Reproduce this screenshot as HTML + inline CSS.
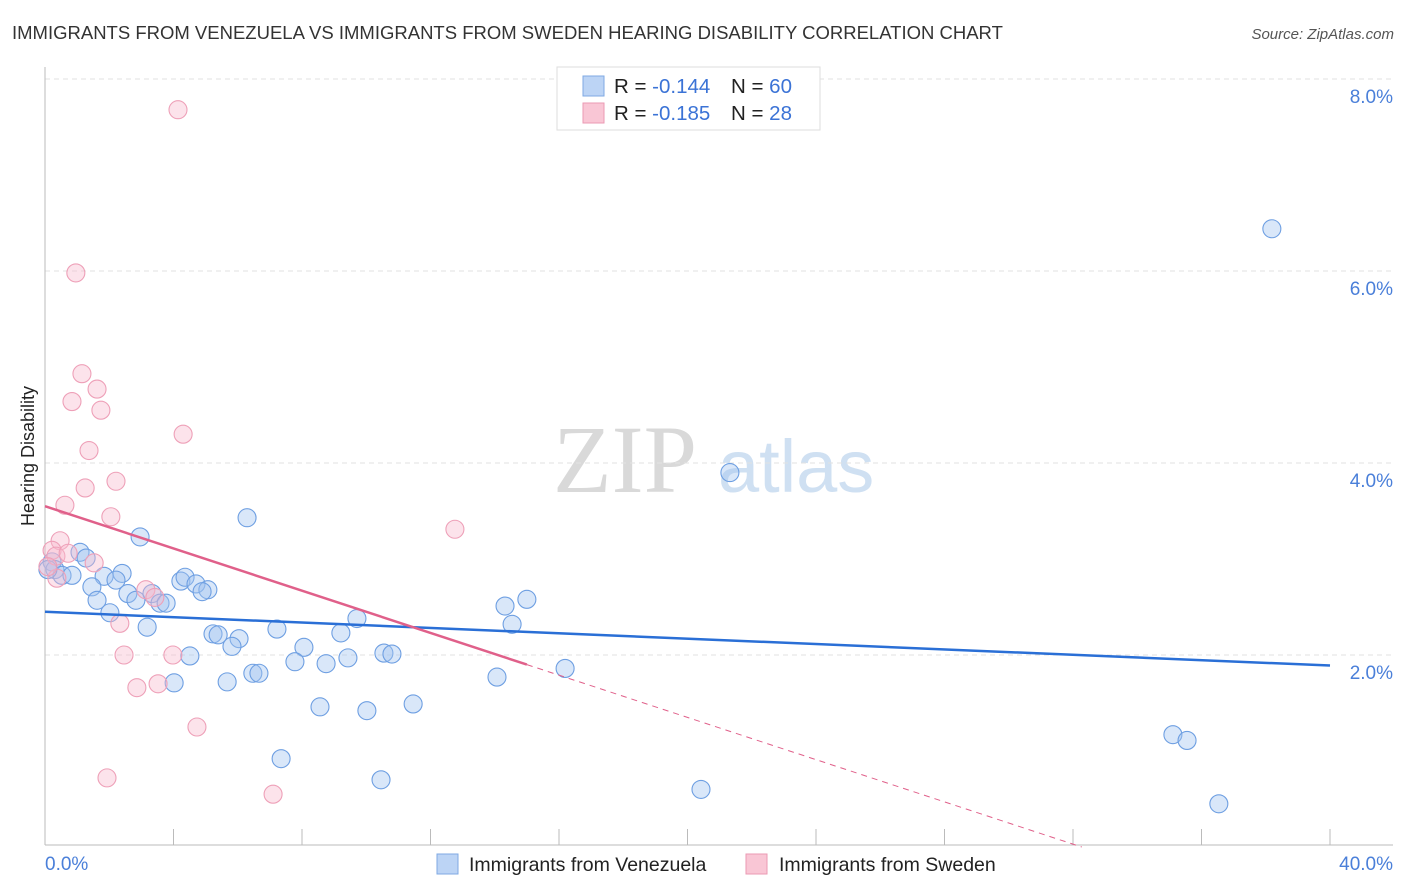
<!DOCTYPE html>
<html><head><meta charset="utf-8">
<style>
body{margin:0;background:#fff;font-family:"Liberation Sans",sans-serif;}
#wrap{position:relative;width:1406px;height:892px;overflow:hidden;}
</style></head>
<body>
<div id="wrap">
<svg id="svg" width="1406" height="892" xmlns="http://www.w3.org/2000/svg">
<text x="12" y="39" font-size="18.5" fill="#333">IMMIGRANTS FROM VENEZUELA VS IMMIGRANTS FROM SWEDEN HEARING DISABILITY CORRELATION CHART</text>
<text x="1394" y="39" font-size="15" fill="#555" font-style="italic" text-anchor="end">Source: ZipAtlas.com</text>
<text x="34" y="456" font-size="18" fill="#222" text-anchor="middle" transform="rotate(-90 34 456)">Hearing Disability</text>
<g>
<text x="553" y="492" font-size="96" font-family="Liberation Serif,serif" fill="#d9d9d9">ZIP</text>
<text x="718" y="492" font-size="74" fill="#cfe0f2">atlas</text>
</g>
<g id="grid"></g>
<g id="axes"></g>
<g id="marks"></g>
<g id="trend"></g>
<g>
<rect x="557" y="67" width="263" height="63" fill="#fff" stroke="#ddd"/>
<rect x="583" y="76" width="21" height="20" fill="#bcd4f5" stroke="#7fa9e3"/>
<rect x="583" y="103" width="21" height="20" fill="#f9c6d5" stroke="#eb9ab3"/>
<text x="614" y="93" font-size="20.5" fill="#222">R = <tspan fill="#3b73d6">-0.144</tspan></text>
<text x="731" y="93" font-size="20.5" fill="#222">N = <tspan fill="#3b73d6">60</tspan></text>
<text x="614" y="120" font-size="20.5" fill="#222">R = <tspan fill="#3b73d6">-0.185</tspan></text>
<text x="731" y="120" font-size="20.5" fill="#222">N = <tspan fill="#3b73d6"> 28</tspan></text>
</g>
<g>
<rect x="437" y="854" width="21" height="20" fill="#bcd4f5" stroke="#7fa9e3"/>
<text x="469" y="871" font-size="19.5" fill="#222">Immigrants from Venezuela</text>
<rect x="746" y="854" width="21" height="20" fill="#f9c6d5" stroke="#eb9ab3"/>
<text x="779" y="871" font-size="19.5" fill="#222">Immigrants from Sweden</text>
</g>
</svg>
</div>
<script>
const blueX=[38.19,21.32,6.29,2.96,1.09,1.28,0.22,0.31,0.53,0.84,1.84,2.40,2.21,1.46,2.58,3.33,4.23,4.36,4.70,5.07,4.89,3.58,3.77,2.83,1.62,2.02,3.18,5.23,5.39,6.04,5.82,4.51,7.22,8.06,9.21,9.71,7.78,8.75,9.43,10.55,10.80,14.32,15.00,14.54,16.19,14.07,4.02,5.67,6.47,6.66,8.56,10.02,11.46,7.35,10.46,20.42,35.11,35.55,36.54,0.09];
const blueY=[6.44,3.90,3.43,3.23,3.07,3.01,2.97,2.89,2.83,2.83,2.82,2.85,2.78,2.71,2.64,2.64,2.77,2.81,2.74,2.68,2.66,2.54,2.54,2.57,2.57,2.44,2.29,2.22,2.21,2.17,2.09,1.99,2.27,2.08,2.23,2.38,1.93,1.91,1.97,2.02,2.01,2.51,2.58,2.32,1.86,1.77,1.71,1.72,1.81,1.81,1.46,1.42,1.49,0.92,0.70,0.60,1.17,1.11,0.45,2.89];
const pinkX=[4.14,0.96,1.15,1.62,0.84,1.74,4.30,1.37,1.25,2.21,0.62,2.05,12.76,0.47,0.22,0.34,0.72,1.53,0.37,3.14,3.42,2.33,2.46,3.98,3.52,2.86,4.73,1.93,7.10,0.09];
const pinkY=[7.68,5.98,4.93,4.77,4.64,4.55,4.30,4.13,3.74,3.81,3.56,3.44,3.31,3.19,3.09,3.03,3.06,2.96,2.80,2.68,2.60,2.33,2.00,2.00,1.70,1.66,1.25,0.72,0.55,2.92];
const blueTrend=[2.45,1.89];
const pinkTrend=[3.55,1.90,15];
const yTicks=[2,4,6,8];
const yTickLabels=["2.0%","4.0%","6.0%","8.0%"];
const xTickLabels=["0.0%","40.0%"];

const NS="http://www.w3.org/2000/svg";
const X0=45,X1=1330,Y0=847;
const sx=v=>X0+v*(X1-X0)/40;
const sy=v=>Y0-v*96;
function mk(tag,attrs,parent){const e=document.createElementNS(NS,tag);for(const k in attrs)e.setAttribute(k,attrs[k]);document.getElementById(parent).appendChild(e);return e;}

yTicks.forEach((t,i)=>{
  const g=mk('line',{x1:X0,x2:1393,y1:sy(t),y2:sy(t),stroke:'#e2e2e2','stroke-dasharray':'5,4'},'grid');
  
  
  const l=mk('text',{x:1393,y:sy(t)+24,'font-size':19,fill:'#4a7fd9','text-anchor':'end'},'grid');
  l.textContent=yTickLabels[i];
  
  
});
const ax=mk('line',{x1:X0,x2:X0,y1:67,y2:845,stroke:'#bbb'},'axes');


const bx=mk('line',{x1:X0,x2:1393,y1:845,y2:845,stroke:'#bbb'},'axes');


for(let i=1;i<=10;i++){
  const t=mk('line',{x1:sx(i*4),x2:sx(i*4),y1:829,y2:845,stroke:'#bbb'},'axes');
  
  
}
const xl0=mk('text',{x:45,y:870,'font-size':19,fill:'#4a7fd9'},'axes');
xl0.textContent=xTickLabels[0];


const xl1=mk('text',{x:1393,y:870,'font-size':19,fill:'#4a7fd9','text-anchor':'end'},'axes');
xl1.textContent=xTickLabels[1];



blueX.forEach((v,i)=>{
  const c=mk('circle',{cx:sx(v),cy:sy(blueY[i]),r:9,fill:'rgba(160,196,240,0.4)',stroke:'#6e9fe2','stroke-width':1.1},'marks');
  
  
});
pinkX.forEach((v,i)=>{
  const c=mk('circle',{cx:sx(v),cy:sy(pinkY[i]),r:9,fill:'rgba(248,184,204,0.4)',stroke:'#eea0b8','stroke-width':1.1},'marks');
  
  
});
const bl=mk('line',{x1:sx(0),y1:sy(blueTrend[0]),x2:sx(40),y2:sy(blueTrend[1]),stroke:'#2a6fd6','stroke-width':2.5},'trend');


const ps=(pinkTrend[1]-pinkTrend[0])/pinkTrend[2];
const pl=mk('line',{x1:sx(0),y1:sy(pinkTrend[0]),x2:sx(pinkTrend[2]),y2:sy(pinkTrend[1]),stroke:'#e0608a','stroke-width':2.5},'trend');


const xz=-pinkTrend[0]/ps;
const pd=mk('line',{x1:sx(pinkTrend[2]),y1:sy(pinkTrend[1]),x2:sx(xz),y2:sy(0),stroke:'#e0608a','stroke-width':1,'stroke-dasharray':'6,5'},'trend');


</script>
</body></html>
